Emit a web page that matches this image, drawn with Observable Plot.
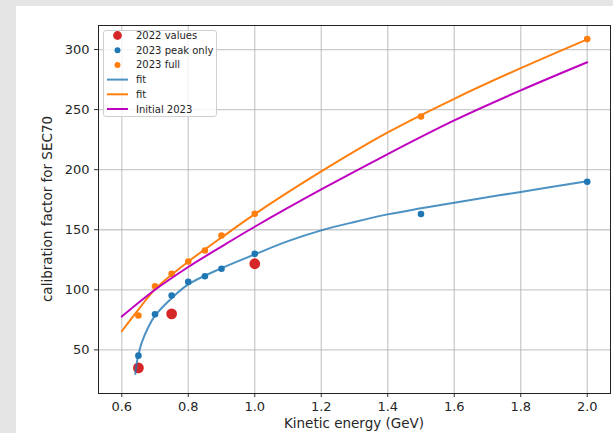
<!DOCTYPE html>
<html>
<head>
<meta charset="utf-8">
<script src="https://cdn.jsdelivr.net/npm/d3@7"></script>
<script src="https://cdn.jsdelivr.net/npm/@observablehq/plot@0.6"></script>
<style>
  html, body { margin: 0; padding: 0; background: #e5e5e5; }
  #wrap { position: relative; width: 613px; height: 433px; overflow: hidden; }
  #panel { position: absolute; left: 16px; top: 6px; right: 0; bottom: 0; background: #ffffff; }
  #chart { position: absolute; left: 0; top: 0; }
</style>
</head>
<body>
<div id="wrap"><div id="panel"></div><div id="chart"></div></div>
<script>
// ---- data ----
const energies2022 = [0.65, 0.75, 1.0];
const values2022 = [35, 80, 121.7];

const energies2023 = [0.65, 0.7, 0.75, 0.8, 0.85, 0.9, 1.0, 1.5, 2.0];
const peakOnly2023 = [45.2, 79.7, 95.3, 106.6, 111.3, 117.5, 130, 163.1, 190];
const full2023 = [78.6, 103, 113.3, 123.6, 132.7, 145.2, 163.3, 244.2, 308.7];

// fit curves
const fitPeakX = [0.641, 0.645, 0.65, 0.66, 0.68, 0.7, 0.75, 0.8, 0.9, 1.0, 1.1, 1.2, 1.3, 1.4, 1.5, 1.6, 1.8, 2.0];
const fitPeakY = [30, 39, 46, 56, 69, 78.5, 93, 104.5, 118, 129.5, 140.5, 149.5, 156.5, 162.8, 167.8, 172.5, 181.5, 190.3];

const fitFullX = [0.6, 0.65, 0.7, 0.8, 0.9, 1.0, 1.2, 1.4, 1.6, 1.8, 2.0];
const fitFullY = [65.5, 83.5, 100.5, 123.5, 143.5, 163, 198.5, 231, 259, 284.5, 308.5];

const initialX = [0.6, 0.7, 0.8, 0.9, 1.0, 1.2, 1.4, 1.6, 1.8, 2.0];
const initialY = [77.7, 100, 119, 136, 152.5, 183.5, 213, 241, 266, 289.4];

const xTicks = [0.6, 0.8, 1.0, 1.2, 1.4, 1.6, 1.8, 2.0];
const yTicks = [50, 100, 150, 200, 250, 300];

const legendLabels = ["2022 values", "2023 peak only", "2023 full", "fit", "fit", "Initial 2023"];

// ---- tables ----
const pts2022 = energies2022.map((x, i) => ({x, y: values2022[i]}));
const ptsPeak = energies2023.map((x, i) => ({x, y: peakOnly2023[i]}));
const ptsFull = energies2023.map((x, i) => ({x, y: full2023[i]}));
const linePeak = fitPeakX.map((x, i) => ({x, y: fitPeakY[i]}));
const lineFull = fitFullX.map((x, i) => ({x, y: fitFullY[i]}));
const lineInit = initialX.map((x, i) => ({x, y: initialY[i]}));

const RED = "#d62728", BLUE = "#1f77b4", ORANGE = "#ff7f0e", MAG = "#bf00bf";
const FONT = "DejaVu Sans";

const plot = Plot.plot({
  width: 613, height: 433,
  marginLeft: 98, marginRight: 3, marginTop: 25, marginBottom: 40,
  style: {fontFamily: FONT, fontSize: "13px", background: "transparent", color: "#262626", overflow: "visible"},
  x: {domain: [0.53, 2.07], label: null},
  y: {domain: [13.7, 320], label: null},
  marks: [
    Plot.gridX(xTicks, {stroke: "#b0b0b0", strokeOpacity: 0.65, strokeWidth: 1.3}),
    Plot.gridY(yTicks, {stroke: "#b0b0b0", strokeOpacity: 0.65, strokeWidth: 1.3}),
    Plot.axisX(xTicks, {tickFormat: d3.format(".1f"), tickSize: 4, tickPadding: 4, stroke: "#333", fill: "#262626", label: null}),
    Plot.axisY(yTicks, {tickSize: 4, tickPadding: 5, stroke: "#333", fill: "#262626", label: null}),
    Plot.dot(pts2022, {x: "x", y: "y", r: 5.4, fill: RED, stroke: "none"}),
    Plot.dot(ptsPeak, {x: "x", y: "y", r: 3.3, fill: BLUE, stroke: "none"}),
    Plot.dot(ptsFull, {x: "x", y: "y", r: 3.3, fill: ORANGE, stroke: "none"}),
    Plot.line(linePeak, {x: "x", y: "y", stroke: BLUE, strokeOpacity: 0.8, strokeWidth: 2, curve: "catmull-rom"}),
    Plot.line(lineFull, {x: "x", y: "y", stroke: ORANGE, strokeWidth: 2, curve: "catmull-rom"}),
    Plot.line(lineInit, {x: "x", y: "y", stroke: MAG, strokeWidth: 2, curve: "catmull-rom"}),
    Plot.frame({stroke: "#222", strokeWidth: 1})
  ]
});
document.getElementById("chart").appendChild(plot);

const svg = d3.select(plot);
// axis titles
svg.append("text")
  .attr("x", 354).attr("y", 428)
  .attr("text-anchor", "middle")
  .attr("font-family", FONT).attr("font-size", 13.5).attr("fill", "#262626")
  .text("Kinetic energy (GeV)");
svg.append("text")
  .attr("transform", "translate(52,209) rotate(-90)")
  .attr("text-anchor", "middle")
  .attr("font-family", FONT).attr("font-size", 13.5).attr("fill", "#262626")
  .text("calibration factor for SEC70");

// legend
const lg = svg.append("g").attr("text-anchor", "start");
lg.append("rect").attr("x", 103.5).attr("y", 30.5).attr("width", 113).attr("height", 86)
  .attr("rx", 2.5).attr("fill", "#fff").attr("fill-opacity", 0.8).attr("stroke", "#d0d0d0");
const legendKinds = [
  {type: "dot", color: RED, r: 4.4},
  {type: "dot", color: BLUE, r: 3},
  {type: "dot", color: ORANGE, r: 3},
  {type: "line", color: BLUE, op: 0.8},
  {type: "line", color: ORANGE, op: 1},
  {type: "line", color: MAG, op: 1}
];
legendLabels.forEach((lab, i) => {
  const cy = 35.5 + i * 14.7;
  const k = legendKinds[i];
  if (k.type === "dot") {
    lg.append("circle").attr("cx", 117.5).attr("cy", cy).attr("r", k.r).attr("fill", k.color);
  } else {
    lg.append("line").attr("x1", 107).attr("x2", 128).attr("y1", cy).attr("y2", cy)
      .attr("stroke", k.color).attr("stroke-width", 2).attr("stroke-opacity", k.op);
  }
  lg.append("text").attr("x", 136).attr("y", cy).attr("dy", "0.35em")
    .attr("text-anchor", "start")
    .attr("font-family", FONT).attr("font-size", 10).attr("fill", "#262626").text(lab);
});
</script>
</body>
</html>
